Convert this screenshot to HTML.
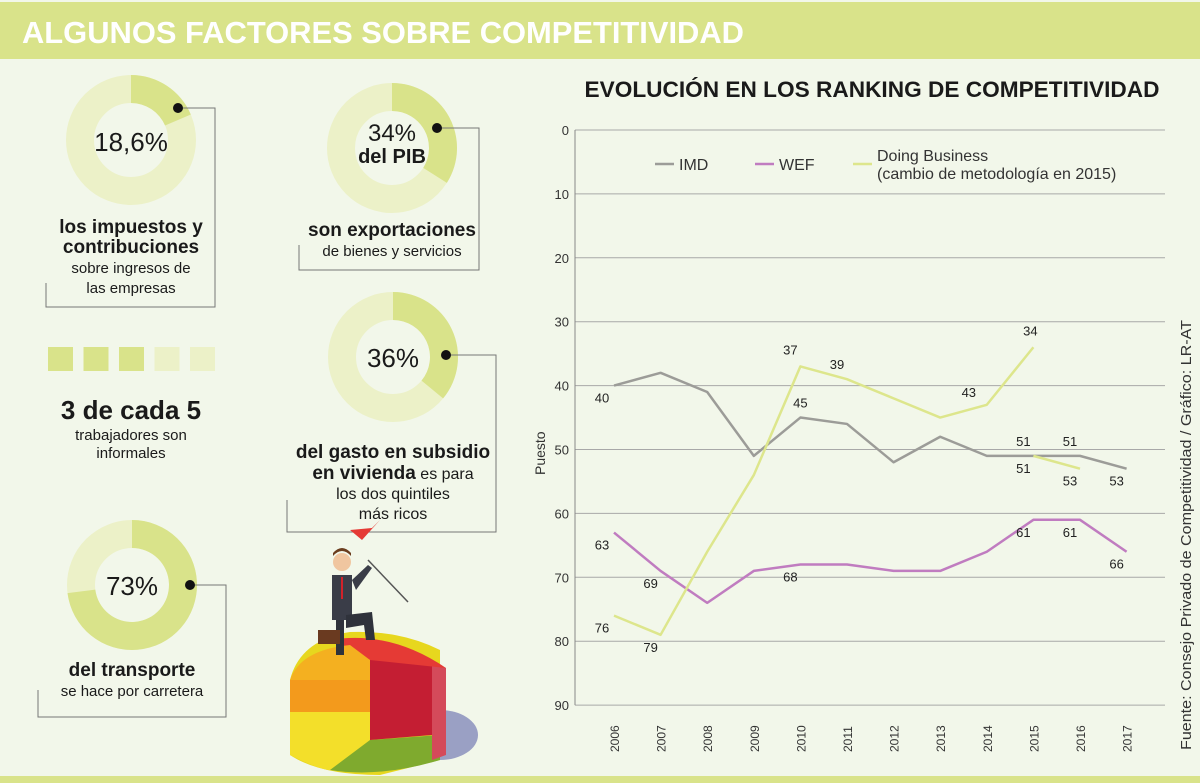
<!DOCTYPE html>
<html><head><meta charset="utf-8"><style>
body{margin:0;width:1200px;height:783px;overflow:hidden;background:#f2f7ea;font-family:"Liberation Sans",sans-serif;}
svg{display:block}
</style></head><body>
<svg id="root" width="1200" height="783" viewBox="0 0 1200 783">
<rect x="0" y="0" width="1200" height="783" fill="#f2f7ea"/>
<rect x="0" y="2" width="1200" height="57" fill="#d9e38a"/>
<text x="22" y="43" fill="#fff" font-size="31" font-weight="bold" textLength="722" lengthAdjust="spacingAndGlyphs">ALGUNOS FACTORES SOBRE COMPETITIVIDAD</text>
<rect x="0" y="776" width="1200" height="7" fill="#d9e38a"/>

<g id="left"></g>

<!-- illustration -->
<g>
<ellipse cx="440" cy="735" rx="38" ry="25" fill="#9aa0c4"/>
<path d="M290 680 L290 755 Q320 775 380 775 L440 760 L440 650 Q400 630 350 632 Q300 640 290 680Z" fill="#e7d71e"/>
<path d="M290 680 L290 712 L370 712 L370 680Z" fill="#f39a1c"/>
<path d="M290 712 L290 755 Q320 770 330 770 L370 745 L370 712Z" fill="#f3df2a"/>
<path d="M330 770 Q380 778 440 760 L440 735 L370 740Z" fill="#7faa2e"/>
<path d="M370 650 L370 740 L432 735 L432 662Z" fill="#c41e33"/>
<path d="M432 662 L446 668 L446 755 L432 760Z" fill="#d44a5a"/>
<path d="M330 640 Q390 630 446 668 L370 660Z" fill="#e53a35"/>
<path d="M290 680 Q300 650 350 645 L370 660 L370 680Z" fill="#f4b020"/>
<rect x="332" y="575" width="20" height="45" fill="#3a3d48"/>
<rect x="336" y="620" width="8" height="35" fill="#2f323b"/>
<path d="M346 615 L372 612 L375 640 L366 640 L364 625 L346 628Z" fill="#2f323b"/>
<circle cx="342" cy="562" r="9" fill="#f0c6a0"/>
<path d="M333 556 Q342 546 351 556 L351 553 Q342 543 333 553Z" fill="#6b3d1e"/>
<rect x="341" y="577" width="2" height="22" fill="#d2222a"/>
<path d="M352 580 L368 565 L372 568 L356 590Z" fill="#3a3d48"/>
<line x1="368" y1="560" x2="408" y2="602" stroke="#555" stroke-width="1.5"/>
<path d="M350 530 L372 528 L380 520 L362 540Z" fill="#e53a35"/>
<rect x="318" y="630" width="22" height="14" fill="#6a3a20"/>
</g>

<g id="chart"></g>
</svg>
<script>
const NS="http://www.w3.org/2000/svg";
function mk(parent,tag,attrs,txt){const e=document.createElementNS(NS,tag);for(const k in attrs)e.setAttribute(k,attrs[k]);if(txt!==undefined)e.textContent=txt;parent.appendChild(e);return e;}

// ---------- chart data ----------
const years=["2006","2007","2008","2009","2010","2011","2012","2013","2014","2015","2016","2017"];
const imdValues=[40,38,41,51,45,46,52,48,51,51,51,53];
const wefValues=[63,69,74,69,68,68,69,69,66,61,61,66];
const dbValues=[76,79,66,54,37,39,42,45,43,34];
const dbNewValues=[51,53];
const dbNewYearIndex=[9,10];
const yTicks=[0,10,20,30,40,50,60,70,80,90];

const chart=document.getElementById('chart');
const xS=i=>614+i*46.6;
const yS=v=>130+v*6.39;

mk(chart,'text',{x:872,y:97,'text-anchor':'middle','font-size':22,'font-weight':'bold',fill:'#1a1a1a',textLength:575,lengthAdjust:'spacingAndGlyphs','font-family':'"Liberation Sans Narrow","Liberation Sans",sans-serif',},'EVOLUCIÓN EN LOS RANKING DE COMPETITIVIDAD');

yTicks.forEach(t=>{
  const g=mk(chart,'line',{x1:575,x2:1165,y1:yS(t),y2:yS(t),stroke:'#a8a8a8','stroke-width':1});
  
  
  const l=mk(chart,'text',{x:569,y:yS(t)+5,'text-anchor':'end','font-size':13,fill:'#333','font-family':'"Liberation Sans Narrow","Liberation Sans",sans-serif'},String(t));
  
  
});
const ax=mk(chart,'line',{x1:575,x2:575,y1:yS(0),y2:yS(90),stroke:'#888','stroke-width':1});


years.forEach((y,i)=>{
  const t=mk(chart,'text',{transform:`translate(${xS(i)+5},${752}) rotate(-90)`,'font-size':12,fill:'#333','font-family':'"Liberation Sans Narrow","Liberation Sans",sans-serif'},y);
  
  
});
const yt=mk(chart,'text',{transform:'translate(545,475) rotate(-90)','font-size':14,fill:'#333'},'Puesto');


const src=mk(chart,'text',{transform:'translate(1191,750) rotate(-90)','font-size':15,fill:'#333',textLength:430,lengthAdjust:'spacingAndGlyphs'},'Fuente: Consejo Privado de Competitividad / Gráfico: LR-AT');



function line(vals,idx,color,name){
  const d=vals.map((v,k)=>(k?'L':'M')+xS(idx?idx[k]:k)+' '+yS(v)).join(' ');
  const p=mk(chart,'path',{d:d,fill:'none',stroke:color,'stroke-width':2.5,'stroke-linejoin':'round'});
  
  
}
line(imdValues,null,'#9c9c98','imd-line');
line(wefValues,null,'#c07cc0','wef-line');
line(dbValues,null,'#dde68c','doing-business-line');
line(dbNewValues,dbNewYearIndex,'#dde68c','doing-business-new-line');

function lab(i,v,dy,dx){
  const t=mk(chart,'text',{x:xS(i)+(dx||0),y:yS(v)+dy,'text-anchor':'middle','font-size':13,fill:'#222','font-family':'"Liberation Sans Narrow","Liberation Sans",sans-serif'},String(v));
  
  
}
lab(0,imdValues[0],17,-12);lab(4,imdValues[4],-10,0);lab(9,imdValues[9],-10,-10);lab(10,imdValues[10],-10,-10);lab(11,imdValues[11],17,-10);
lab(0,wefValues[0],17,-12);lab(1,wefValues[1],17,-10);lab(4,wefValues[4],17,-10);lab(9,wefValues[9],17,-10);lab(10,wefValues[10],17,-10);lab(11,wefValues[11],17,-10);
lab(0,dbValues[0],17,-12);lab(1,dbValues[1],17,-10);lab(4,dbValues[4],-12,-10);lab(5,dbValues[5],-10,-10);lab(8,dbValues[8],-8,-18);lab(9,dbValues[9],-12,-3);
lab(9,dbNewValues[0],17,-10);lab(10,dbNewValues[1],17,-10);

// legend
[[655,'#9c9c98','IMD','legend-imd'],[755,'#c07cc0','WEF','legend-wef'],[853,'#dde68c','Doing Business','legend-doing-business']].forEach(a=>{
  const g=mk(chart,'g',{});
  
  
  mk(g,'line',{x1:a[0],x2:a[0]+19,y1:164,y2:164,stroke:a[1],'stroke-width':2.5});
  mk(g,'text',{x:a[0]+24,y:a[2]==='Doing Business'?161:170,'font-size':16,fill:'#333'},a[2]);
  if(a[2]==='Doing Business')mk(g,'text',{x:a[0]+24,y:179,'font-size':16,fill:'#333'},'(cambio de metodología en 2015)');
});

// ---------- left infographic ----------
const left=document.getElementById('left');
const donutPct=[18.6,34,36,73];
const DARK='#d9e38a',LIGHT='#ecf1c8';
const donutPos=[[131,140],[392,148],[393,357],[132,585]];
function arc(cx,cy,R,r,a0,a1){
  const p=(rad,a)=>[cx+rad*Math.sin(a),cy-rad*Math.cos(a)];
  const large=(a1-a0)>Math.PI?1:0;
  const [x1,y1]=p(R,a0),[x2,y2]=p(R,a1),[x3,y3]=p(r,a1),[x4,y4]=p(r,a0);
  return `M${x1} ${y1} A${R} ${R} 0 ${large} 1 ${x2} ${y2} L${x3} ${y3} A${r} ${r} 0 ${large} 0 ${x4} ${y4}Z`;
}
donutPct.forEach((pc,i)=>{
  const [cx,cy]=donutPos[i];
  const g=mk(left,'g',{});
  
  
  mk(g,'circle',{cx:cx,cy:cy,r:51,fill:'none',stroke:LIGHT,'stroke-width':28});
  mk(g,'path',{d:arc(cx,cy,65,37,0,pc/100*2*Math.PI),fill:DARK});
});
const T=(x,y,s,w,txt,name)=>{const t=mk(left,'text',{x:x,y:y,'text-anchor':'middle','font-size':s,'font-weight':w,fill:'#1a1a1a'},txt);return t;};
T(131,151,26,'normal','18,6%','donut-1-value');
T(392,141,24,'normal','34%','donut-2-value');T(392,163,20,'bold','del PIB','donut-2-subvalue');
T(393,367,26,'normal','36%','donut-3-value');
T(132,595,26,'normal','73%','donut-4-value');

// connectors
const conn=[[178,108,215,307,46,283],[437,128,479,270,299,245],[446,355,496,532,287,500],[190,585,226,717,38,690]];
conn.forEach((c,i)=>{
  const g=mk(left,'g',{});
  
  
  mk(g,'path',{d:`M${c[0]} ${c[1]} H${c[2]} V${c[3]} H${c[4]} V${c[5]}`,fill:'none',stroke:'#777','stroke-width':1});
  mk(g,'circle',{cx:c[0],cy:c[1],r:5,fill:'#111'});
});

T(131,233,19,'bold','los impuestos y','text-impuestos');
T(131,253,19,'bold','contribuciones','text-impuestos');
T(131,273,15,'normal','sobre ingresos de','text-impuestos');
T(131,293,15,'normal','las empresas','text-impuestos');
T(392,236,19,'bold','son exportaciones','text-exportaciones');
T(392,256,15,'normal','de bienes y servicios','text-exportaciones');
const sq=[1,1,1,0,0];
sq.forEach((f,i)=>{const r=mk(left,'rect',{x:48+i*35.5,y:347,width:25,height:24,fill:f?DARK:LIGHT});});
T(131,419,26,'bold','3 de cada 5','text-informales');
T(131,440,15,'normal','trabajadores son','text-informales');
T(131,458,15,'normal','informales','text-informales');
T(393,458,19,'bold','del gasto en subsidio','text-vivienda');
const t1=T(393,479,19,'bold','en vivienda','text-vivienda');
const ts=mk(t1,'tspan',{'font-weight':'normal','font-size':16},' es para');
T(393,499,16,'normal','los dos quintiles','text-vivienda');
T(393,519,16,'normal','más ricos','text-vivienda');
T(132,676,19,'bold','del transporte','text-transporte');
T(132,696,15,'normal','se hace por carretera','text-transporte');
</script>
</body></html>
